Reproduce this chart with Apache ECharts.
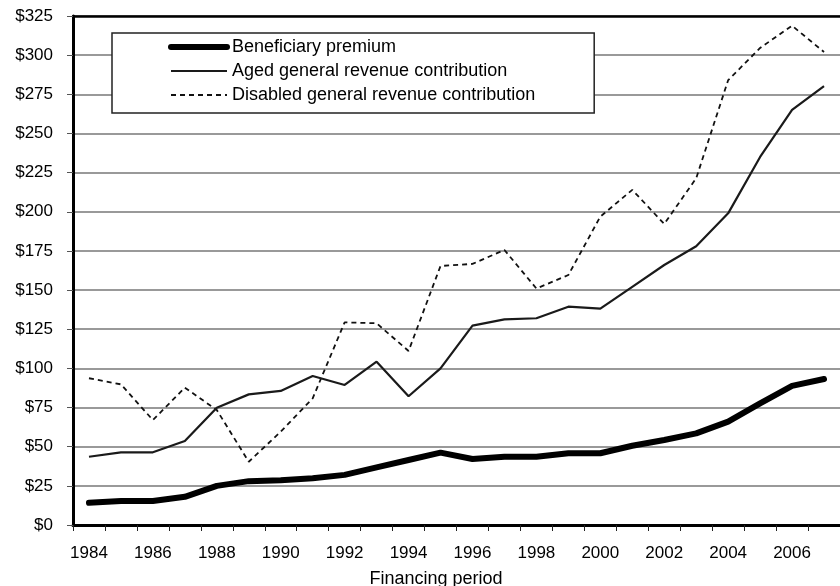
<!DOCTYPE html>
<html>
<head>
<meta charset="utf-8">
<script src="https://cdn.jsdelivr.net/npm/echarts@6/dist/echarts.min.js"></script>
<style>
html,body{margin:0;padding:0;background:#fff;}
#chart{width:840px;height:586px;}
</style>
</head>
<body>
<div id="chart"></div>
<script>
var years = ['1984','1985','1986','1987','1988','1989','1990','1991','1992','1993','1994','1995','1996','1997','1998','1999','2000','2001','2002','2003','2004','2005','2006','2007'];
var beneficiaryPremium = [14.2,15.3,15.3,18,25,28,28.5,29.8,32,36.8,41.5,46.2,42.1,43.6,43.6,45.8,45.8,50.6,54.3,58.5,66,77.7,88.8,93.2];
var agedGeneralRevenue = [43.6,46.4,46.4,53.6,74.9,83.4,85.6,95.1,89.4,104.3,82.2,100,127.3,131.3,132,139.4,138.1,152,166,178,199,235,265,280.3];
var disabledGeneralRevenue = [93.7,89.8,67,87.7,73.4,40.4,59.6,80.9,129.4,128.8,111.1,165.4,166.7,175.6,151,159.6,196.9,214,192.2,221.4,284,304.6,318.8,302];
var seriesNames = ['Beneficiary premium','Aged general revenue contribution','Disabled general revenue contribution'];
var xTitle = 'Financing period';

var font = 'Liberation Sans, Arial, sans-serif';
var lineWidths = [6, 2.2, 1.8];
var chart = echarts.init(document.getElementById('chart'));
chart.setOption({
  animation: false,
  backgroundColor: '#fff',
  title: {
    text: xTitle,
    left: 431, top: 565, textAlign: 'center',
    textStyle: {fontFamily: font, fontSize: 18, fontWeight: 'normal', color: '#000'}
  },
  legend: {
    orient: 'vertical',
    left: 112, top: 33,
    padding: [5, 59, 9, 56],
    itemGap: 6,
    itemWidth: 56, itemHeight: 18,
    backgroundColor: '#fff',
    borderColor: '#222', borderWidth: 1.5,
    itemStyle: {opacity: 0, borderWidth: 0},
    textStyle: {fontFamily: font, fontSize: 18, color: '#000', lineHeight: 18},
    data: seriesNames.map(function (n, i) {
      return {name: n, lineStyle: {width: lineWidths[i], cap: i === 0 ? 'round' : 'butt'}};
    })
  },
  grid: {left: 73, right: -8, top: 16, bottom: 61},
  xAxis: [{
    type: 'category',
    data: years,
    boundaryGap: true,
    axisLine: {show: true, lineStyle: {color: '#000', width: 3}},
    axisTick: {show: true, interval: 0, length: 6, lineStyle: {color: '#222', width: 1}},
    axisLabel: {interval: 1, margin: 20, fontFamily: font, fontSize: 17, color: '#000'},
    splitLine: {show: false}
  }, {
    type: 'category',
    data: years,
    position: 'top',
    boundaryGap: true,
    axisLine: {show: true, lineStyle: {color: '#000', width: 2.5}},
    axisTick: {show: false},
    axisLabel: {show: false},
    splitLine: {show: false}
  }],
  yAxis: {
    type: 'value',
    min: 0, max: 325, interval: 25,
    axisLine: {show: true, lineStyle: {color: '#000', width: 3}},
    axisTick: {show: true, length: 6, lineStyle: {color: '#555', width: 1}},
    axisLabel: {margin: 20, fontFamily: font, fontSize: 17, color: '#000',
      formatter: function (v) { return '$' + v; }},
    splitLine: {show: true, lineStyle: {color: '#777', width: 1.5}}
  },
  series: [{
    name: seriesNames[0], type: 'line', data: beneficiaryPremium,
    symbol: 'none', z: 5,
    lineStyle: {color: '#000', width: lineWidths[0], cap: 'round', join: 'round'},
    itemStyle: {color: '#000'}
  }, {
    name: seriesNames[1], type: 'line', data: agedGeneralRevenue,
    symbol: 'none', z: 4,
    lineStyle: {color: '#1a1a1a', width: lineWidths[1]},
    itemStyle: {color: '#1a1a1a'}
  }, {
    name: seriesNames[2], type: 'line', data: disabledGeneralRevenue,
    symbol: 'none', z: 3,
    lineStyle: {color: '#111', width: lineWidths[2], type: [5, 4]},
    itemStyle: {color: '#111'}
  }]
});
</script>
</body>
</html>
